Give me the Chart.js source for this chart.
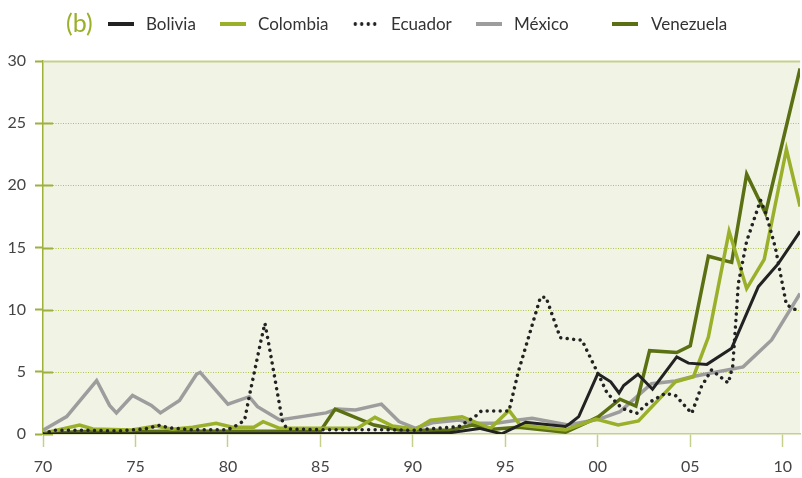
<!DOCTYPE html>
<html>
<head>
<meta charset="utf-8">
<script src="https://cdn.jsdelivr.net/npm/chart.js@4.4.1/dist/chart.umd.min.js"></script>
<style>
    body { margin: 0; background: #fff; }
    #wrap { position: relative; width: 802px; height: 478px; font-family: Lato, "Open Sans", sans-serif; }
    #chart { position: absolute; left: 0; top: 0; }
    .lg { position: absolute; top: 12px; font-size: 17px; color: #333; line-height: 24px; }
    .sw { position: absolute; top: 22px; width: 26px; height: 4px; }
    .dots { height: 4px; background: radial-gradient(circle, #222 1.6px, transparent 2px) 0 0 / 6.5px 4px repeat-x; }
    #tag { position: absolute; left: 66px; top: 7px; font-size: 25px; color: #9ab02a; line-height: 30px; }
</style>
</head>
<body>
<div id="wrap">
    <canvas id="chart" width="802" height="478"></canvas>
    <div id="tag">(b)</div>
    <div class="sw" style="left:108px;background:#222"></div><div class="lg" style="left:146px">Bolivia</div>
    <div class="sw" style="left:220px;background:#9ab02a"></div><div class="lg" style="left:258px">Colombia</div>
    <div class="sw dots" style="left:352px"></div><div class="lg" style="left:391px">Ecuador</div>
    <div class="sw" style="left:476px;background:#9d9d9d"></div><div class="lg" style="left:514px">México</div>
    <div class="sw" style="left:612px;background:#5a7012"></div><div class="lg" style="left:651px">Venezuela</div>
</div>
<script>
    // values (years are fractional where the vertices fall between ticks)
    const xTickYears = [1970, 1975, 1980, 1985, 1990, 1995, 2000, 2005, 2010];
    const yTicks = [0, 5, 10, 15, 20, 25, 30];

    const boliviaYears = [1970, 1990, 1992, 1993.6, 1994.8, 1996.1, 1998.25, 1998.5, 1998.97, 2000.0, 2000.7, 2001.15, 2001.4, 2002.17, 2002.96, 2004.27, 2004.9, 2005.9, 2007.24, 2008.68, 2009.76, 2010.94];
    const boliviaValues = [0.0, 0.05, 0.1, 0.45, 0.02, 0.95, 0.6, 0.85, 1.4, 4.85, 4.2, 3.3, 3.9, 4.8, 3.6, 6.2, 5.7, 5.6, 6.9, 11.85, 13.7, 16.3];

    const colombiaYears = [1970, 1971.98, 1972.7, 1974.8, 1976.1, 1977.0, 1978.1, 1979.36, 1980.25, 1981.4, 1981.9, 1982.8, 1987.0, 1987.95, 1988.9, 1990.15, 1990.96, 1992.66, 1994.2, 1995.2, 1995.8, 1998.25, 1999.9, 2001.1, 2002.2, 2004.2, 2005.17, 2005.98, 2007.1, 2008.05, 2009.0, 2010.2, 2010.94];
    const colombiaValues = [0.05, 0.72, 0.4, 0.32, 0.64, 0.38, 0.54, 0.86, 0.54, 0.54, 0.99, 0.46, 0.46, 1.34, 0.64, 0.38, 1.12, 1.39, 0.46, 1.9, 0.72, 0.32, 1.2, 0.72, 1.05, 4.2, 4.6, 7.8, 16.3, 11.7, 14.05, 22.9, 18.3];

    const ecuadorYears = [1970, 1970.6, 1972.5, 1974, 1975.5, 1976.3, 1976.8, 1978, 1980, 1980.5, 1980.9, 1981.15, 1981.8, 1982.0, 1982.2, 1982.95, 1983.2, 1985, 1988, 1990, 1992.5, 1993.4, 1993.7, 1995.2, 1995.7, 1996.9, 1997.2, 1997.97, 1998.75, 1999.14, 2000.0, 2000.5, 2001.3, 2002.1, 2002.7, 2003.65, 2004.2, 2005.08, 2005.6, 2006.15, 2007.06, 2007.3, 2007.6, 2008.05, 2008.8, 2009.1, 2009.6, 2010.2, 2010.94];
    const ecuadorValues = [0.0, 0.3, 0.3, 0.25, 0.4, 0.7, 0.5, 0.35, 0.35, 0.72, 1.1, 3.0, 7.6, 8.9, 7.3, 1.0, 0.4, 0.35, 0.35, 0.3, 0.6, 1.45, 1.85, 1.85, 5.0, 11.0, 11.0, 7.75, 7.6, 7.56, 4.9, 3.3, 2.07, 1.66, 2.47, 3.27, 3.1, 1.66, 3.8, 5.15, 4.1, 5.5, 12.1, 15.5, 18.8, 17.7, 15.0, 10.4, 9.8];

    const mexicoYears = [1970, 1971.28, 1972.9, 1973.6, 1973.97, 1974.84, 1975.86, 1976.35, 1977.38, 1978.3, 1978.5, 1980.0, 1981.15, 1981.6, 1982.8, 1985.3, 1985.9, 1986.9, 1988.3, 1989.25, 1990.15, 1991.05, 1992.5, 1993.2, 1994.5, 1995.7, 1996.45, 1998.4, 2000.04, 2001.2, 2002.9, 2004.2, 2005.08, 2007.86, 2009.4, 2010.94];
    const mexicoValues = [0.3, 1.4, 4.3, 2.3, 1.7, 3.1, 2.3, 1.7, 2.7, 4.8, 4.96, 2.4, 3.0, 2.2, 1.13, 1.7, 2.0, 1.93, 2.4, 1.0, 0.46, 0.9, 1.13, 0.86, 0.86, 1.13, 1.26, 0.72, 1.18, 1.8, 4.05, 4.26, 4.6, 5.4, 7.56, 11.3];

    const venezuelaYears = [1970, 1972, 1985.0, 1985.8, 1987.9, 1989.26, 1992.0, 1993.2, 1994.3, 1995.7, 1998.26, 1999.5, 2000.04, 2001.2, 2002.06, 2002.8, 2004.27, 2005.0, 2005.98, 2007.24, 2008.05, 2009.07, 2010.94];
    const venezuelaValues = [0.0, 0.2, 0.25, 2.0, 0.72, 0.32, 0.3, 0.72, 0.38, 0.54, 0.15, 1.0, 1.4, 2.8, 2.25, 6.7, 6.55, 7.1, 14.3, 13.8, 20.9, 17.75, 29.4];

    function pairs(xs, ys) {
        return xs.map((x, i) => ({ x: x, y: ys[i] }));
    }

    const frame = {
        id: 'frame',
        beforeDraw(chart) {
            const { ctx, chartArea: a } = chart;
            ctx.save();
            ctx.fillStyle = '#f1f3e5';
            ctx.fillRect(a.left, a.top, a.right - a.left, a.bottom - a.top);
            ctx.restore();
        },
        beforeDatasetsDraw(chart) {
            const { ctx, chartArea: a, scales } = chart;
            ctx.save();
            for (let v of yTicks) {
                let y = Math.round(scales.y.getPixelForValue(v)) + 0.5;
                if (v === 30) {
                    ctx.strokeStyle = '#c6d08c';
                    ctx.lineWidth = 2;
                    ctx.setLineDash([]);
                    ctx.beginPath(); ctx.moveTo(a.left, y); ctx.lineTo(a.right, y); ctx.stroke();
                    continue;
                }
                if (v > 0) {
                    ctx.strokeStyle = '#b3c24e';
                    ctx.lineWidth = 1;
                    ctx.setLineDash([1, 1.5]);
                    ctx.beginPath(); ctx.moveTo(a.left + 10, y); ctx.lineTo(a.right, y); ctx.stroke();
                }
                ctx.setLineDash([]);
                ctx.strokeStyle = '#9db13c';
                ctx.lineWidth = 2;
                ctx.beginPath(); ctx.moveTo(a.left, y); ctx.lineTo(a.left + 10, y); ctx.stroke();
            }
            ctx.restore();
        }
    };

    new Chart(document.getElementById('chart'), {
        type: 'line',
        data: {
            datasets: [
                { label: 'Bolivia', data: pairs(boliviaYears, boliviaValues), borderColor: '#222222', borderWidth: 3, order: 1 },
                { label: 'Colombia', data: pairs(colombiaYears, colombiaValues), borderColor: '#9ab02a', borderWidth: 3.5, order: 2 },
                { label: 'Ecuador', data: pairs(ecuadorYears, ecuadorValues), borderColor: '#222222', borderWidth: 3.5,
                  borderDash: [0.01, 6.5], borderCapStyle: 'round', order: 0 },
                { label: 'México', data: pairs(mexicoYears, mexicoValues), borderColor: '#9d9d9d', borderWidth: 3.5, order: 4 },
                { label: 'Venezuela', data: pairs(venezuelaYears, venezuelaValues), borderColor: '#5a7012', borderWidth: 3.5, order: 3 }
            ]
        },
        options: {
            responsive: false,
            animation: false,
            layout: { padding: { top: 61, left: 0, right: 0, bottom: 0 } },
            elements: {
                point: { radius: 0 },
                line: { tension: 0, fill: false }
            },
            plugins: {
                legend: { display: false },
                tooltip: { enabled: false }
            },
            scales: {
                x: {
                    type: 'linear',
                    min: 1970,
                    max: 2010.94,
                    afterFit: (scale) => { scale.height = 44; },
                    afterBuildTicks: (scale) => { scale.ticks = xTickYears.map(v => ({ value: v })); },
                    grid: { drawOnChartArea: false, tickLength: 13, tickColor: '#c6d08c', tickWidth: 1.5 },
                    border: { display: true, color: '#c6d08c', width: 1.5 },
                    ticks: {
                        padding: 10,
                        maxRotation: 0,
                        color: '#444',
                        font: { family: 'Lato', size: 16 },
                        callback: (v) => String(v % 100).padStart(2, '0')
                    }
                },
                y: {
                    min: 0,
                    max: 30,
                    afterFit: (scale) => { scale.width = 43; },
                    afterBuildTicks: (scale) => { scale.ticks = yTicks.map(v => ({ value: v })); },
                    grid: { drawOnChartArea: false, tickLength: 8, tickColor: '#9db13c', tickWidth: 2 },
                    border: { display: true, color: '#9db13c', width: 1.5 },
                    ticks: {
                        padding: 9,
                        color: '#444',
                        font: { family: 'Lato', size: 16 }
                    }
                }
            }
        },
        plugins: [frame]
    });
</script>
</body>
</html>
